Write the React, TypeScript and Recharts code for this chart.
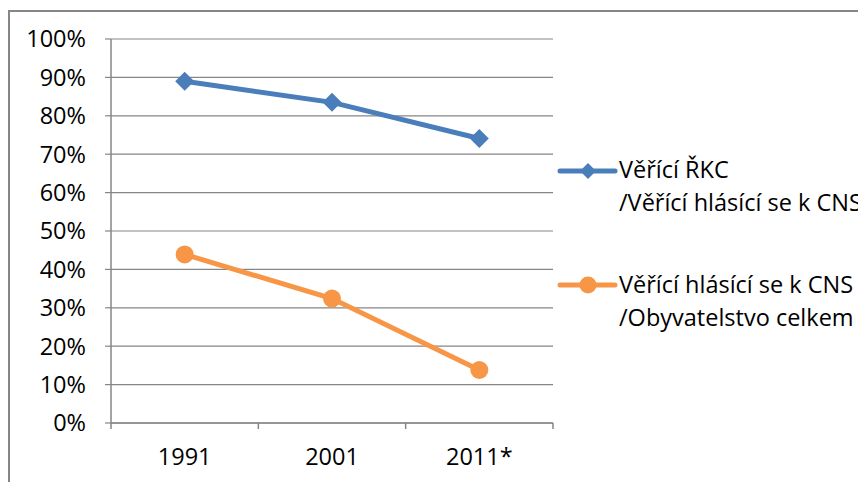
import { LineChart, Line, XAxis, YAxis, CartesianGrid } from 'recharts';

// values
const years = ['1991', '2001', '2011*'];
const rkcShare = [0.89, 0.835, 0.741];
const cnsShare = [0.439, 0.324, 0.138];
const yTicks = [0, 0.1, 0.2, 0.3, 0.4, 0.5, 0.6, 0.7, 0.8, 0.9, 1];
const legendRkc = ['Věřící ŘKC', '/Věřící hlásící se k CNS'];
const legendCns = ['Věřící hlásící se k CNS', '/Obyvatelstvo celkem'];

const data = years.map((year, i) => ({ year, rkc: rkcShare[i], cns: cnsShare[i] }));

const FONT = '"Open Sans", sans-serif';
const FS = 23.5;
const GRAY = '#868686';
const BLUE = '#4a7ebb';
const ORANGE = '#f79646';
const STEP = 442 / 3;

function YearTick(props: any) {
  const { x, y, payload, index, visibleTicksCount } = props;
  return (
    <g>
      <line x1={x - STEP / 2} x2={x - STEP / 2} y1={y} y2={y + 6} stroke={GRAY} strokeWidth={1.5} />
      {index === visibleTicksCount - 1 && (
        <line x1={x + STEP / 2} x2={x + STEP / 2} y1={y} y2={y + 6} stroke={GRAY} strokeWidth={1.5} />
      )}
      <text x={x} y={y + 42} textAnchor="middle" fill="#000" fontSize={FS} fontFamily={FONT}>
        {payload.value}
      </text>
    </g>
  );
}

function Diamond(props: any) {
  const { cx, cy } = props;
  if (cx == null || cy == null) return null;
  const r = 9.5;
  return <path d={`M${cx},${cy - r}L${cx + r},${cy}L${cx},${cy + r}L${cx - r},${cy}Z`} fill={BLUE} />;
}

export default function App() {
  return (
    <div style={{ position: 'absolute', left: 0, top: 0, width: 858, height: 482, overflow: 'hidden', background: '#fff' }}>
      <div
        style={{
          position: 'absolute', left: 8, top: 10, width: 870, height: 500,
          border: `2px solid ${GRAY}`, boxSizing: 'border-box',
        }}
      />
      <div style={{ position: 'absolute', left: 0, top: 0 }}>
        <LineChart width={858} height={482} data={data} margin={{ top: 39, right: 305, bottom: 29, left: 51 }}>
          <CartesianGrid vertical={false} stroke={GRAY} strokeWidth={1.2} />
          <XAxis
            dataKey="year"
            height={30}
            padding={{ left: STEP / 2, right: STEP / 2 }}
            axisLine={{ stroke: GRAY, strokeWidth: 1.5 }}
            tickLine={false}
            tickSize={0}
            tickMargin={0}
            tick={<YearTick />}
            interval={0}
          />
          <YAxis
            width={60}
            domain={[0, 1]}
            ticks={yTicks}
            interval={0}
            tickFormatter={(v: number) => `${Math.round(v * 100)}%`}
            axisLine={{ stroke: GRAY, strokeWidth: 1.5 }}
            tickLine={{ stroke: GRAY, strokeWidth: 1.2 }}
            tickSize={6}
            tickMargin={19}
            tick={{ fill: '#000', fontSize: FS, fontFamily: FONT }}
          />
          <Line dataKey="rkc" stroke={BLUE} strokeWidth={5} dot={<Diamond />} isAnimationActive={false} />
          <Line
            dataKey="cns"
            stroke={ORANGE}
            strokeWidth={5}
            dot={{ r: 9, fill: ORANGE, stroke: 'none' }}
            isAnimationActive={false}
          />
        </LineChart>
      </div>
      <svg width={858} height={482} style={{ position: 'absolute', left: 0, top: 0 }}>
        <g fontFamily={FONT} fontSize={FS} fill="#000">
          <line x1={560} x2={615} y1={171} y2={171} stroke={BLUE} strokeWidth={5} strokeLinecap="round" />
          <path d="M588,163L596,171L588,179L580,171Z" fill={BLUE} />
          <text x={619} y={178}>{legendRkc[0]}</text>
          <text x={619} y={211}>{legendRkc[1]}</text>
          <line x1={560} x2={615} y1={285} y2={285} stroke={ORANGE} strokeWidth={5} strokeLinecap="round" />
          <circle cx={588} cy={285} r={8.5} fill={ORANGE} />
          <text x={619} y={293}>{legendCns[0]}</text>
          <text x={619} y={326}>{legendCns[1]}</text>
        </g>
      </svg>
    </div>
  );
}
